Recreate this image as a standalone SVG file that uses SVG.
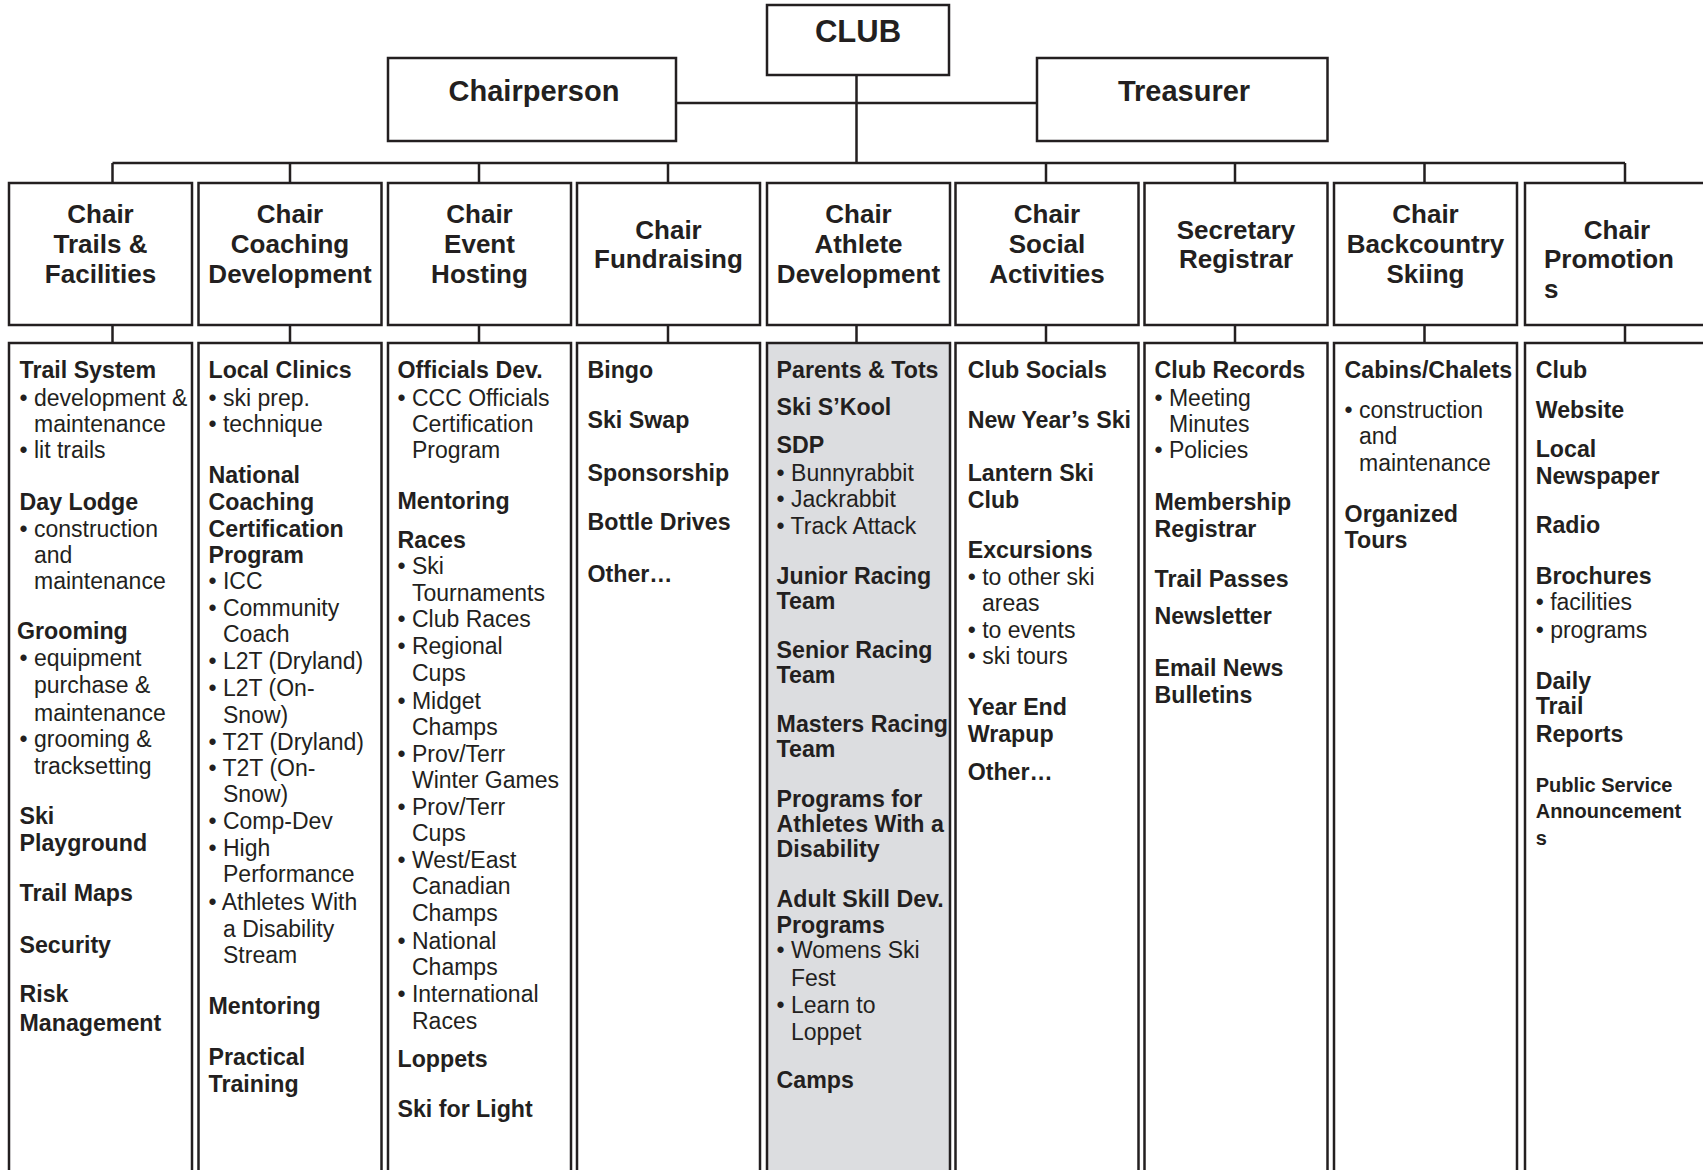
<svg xmlns="http://www.w3.org/2000/svg" width="1703" height="1170" viewBox="0 0 1703 1170">
<style>
.box{fill:#fff;stroke:#231f20;stroke-width:2.5}
.gray{fill:#dcdde0}
.conn{stroke:#231f20;stroke-width:2.5;fill:none}
text{fill:#231f20;font-family:"Liberation Sans",Arial,Helvetica,sans-serif}
.top{font-size:29px;font-weight:bold;text-anchor:middle}
.h{font-size:26px;font-weight:bold;text-anchor:middle}
.b{font-size:23.2px;font-weight:bold}
.r{font-size:23px}
.s{font-size:20px;font-weight:bold}
</style>
<rect width="1703" height="1170" fill="#fff"/>
<g id="connectors">
<path class="conn" d="M856.5 75V163M676 103H1037M112.5 163H1625"/>
<path class="conn" d="M112.5 163V183M290 163V183M479 163V183M668 163V183M1046 163V183M1235 163V183M1424.5 163V183M1625 163V183"/>
<path class="conn" d="M112.5 325V343M290 325V343M479 325V343M668 325V343M856.5 325V343M1046 325V343M1235 325V343M1424.5 325V343M1625 325V343"/>
</g>
<g id="club"><rect class="box" x="767" y="5" width="182" height="70"/><text class="top" x="858" y="42" style="font-size:31px">CLUB</text></g>
<g id="chairperson"><rect class="box" x="388" y="58" width="288" height="83"/><text class="top" x="534" y="101">Chairperson</text></g>
<g id="treasurer"><rect class="box" x="1037" y="58" width="290.5" height="83"/><text class="top" x="1184" y="101">Treasurer</text></g>

<g id="chair-trails"><rect class="box" x="9" y="183" width="183" height="142"/><text class="h"><tspan x="100.5" y="223">Chair</tspan><tspan x="100.5" y="253">Trails &amp;</tspan><tspan x="100.5" y="283">Facilities</tspan></text></g>
<g id="chair-coaching"><rect class="box" x="198.5" y="183" width="183" height="142"/><text class="h"><tspan x="290" y="223">Chair</tspan><tspan x="290" y="253">Coaching</tspan><tspan x="290" y="283">Development</tspan></text></g>
<g id="chair-event"><rect class="box" x="388" y="183" width="183" height="142"/><text class="h"><tspan x="479.5" y="223">Chair</tspan><tspan x="479.5" y="253">Event</tspan><tspan x="479.5" y="283">Hosting</tspan></text></g>
<g id="chair-fundraising"><rect class="box" x="577" y="183" width="183" height="142"/><text class="h"><tspan x="668.5" y="238.5">Chair</tspan><tspan x="668.5" y="268">Fundraising</tspan></text></g>
<g id="chair-athlete"><rect class="box" x="767" y="183" width="183" height="142"/><text class="h"><tspan x="858.5" y="223">Chair</tspan><tspan x="858.5" y="253">Athlete</tspan><tspan x="858.5" y="283">Development</tspan></text></g>
<g id="chair-social"><rect class="box" x="955.5" y="183" width="183" height="142"/><text class="h"><tspan x="1047" y="223">Chair</tspan><tspan x="1047" y="253">Social</tspan><tspan x="1047" y="283">Activities</tspan></text></g>
<g id="secretary"><rect class="box" x="1144.5" y="183" width="183" height="142"/><text class="h"><tspan x="1236" y="238.5">Secretary</tspan><tspan x="1236" y="268">Registrar</tspan></text></g>
<g id="chair-backcountry"><rect class="box" x="1334" y="183" width="183" height="142"/><text class="h"><tspan x="1425.5" y="223">Chair</tspan><tspan x="1425.5" y="253">Backcountry</tspan><tspan x="1425.5" y="283">Skiing</tspan></text></g>
<g id="chair-promotions"><rect class="box" x="1525" y="183" width="190" height="142"/><text class="h"><tspan x="1617" y="238.5">Chair</tspan><tspan x="1544" y="268" text-anchor="start">Promotion</tspan><tspan x="1544" y="298" text-anchor="start">s</tspan></text></g>

<g id="list-trails"><rect class="box" x="9" y="343" width="183" height="850"/>
<text class="b" x="19.5" y="378">Trail System</text>
<text class="r"><tspan x="19.5" y="405.5">• development &amp;</tspan><tspan x="34" y="431.6">maintenance</tspan><tspan x="19.5" y="457.7">• lit trails</tspan></text>
<text class="b" x="19.5" y="509.8">Day Lodge</text>
<text class="r"><tspan x="19.5" y="537">• construction</tspan><tspan x="34" y="563">and</tspan><tspan x="34" y="589">maintenance</tspan></text>
<text class="b" x="17" y="639">Grooming</text>
<text class="r"><tspan x="19.5" y="666">• equipment</tspan><tspan x="34" y="693">purchase &amp;</tspan><tspan x="34" y="720.5">maintenance</tspan><tspan x="19.5" y="746.5">• grooming &amp;</tspan><tspan x="34" y="773.7">tracksetting</tspan></text>
<text class="b"><tspan x="19.5" y="824">Ski</tspan><tspan x="19.5" y="851">Playground</tspan><tspan x="19.5" y="901">Trail Maps</tspan><tspan x="19.5" y="953">Security</tspan><tspan x="19.5" y="1002">Risk</tspan><tspan x="19.5" y="1031">Management</tspan></text>
</g>

<g id="list-coaching"><rect class="box" x="198.5" y="343" width="183" height="850"/>
<text class="b" x="208.5" y="378">Local Clinics</text>
<text class="r"><tspan x="208.5" y="405.5">• ski prep.</tspan><tspan x="208.5" y="431.6">• technique</tspan></text>
<text class="b"><tspan x="208.5" y="482.6">National</tspan><tspan x="208.5" y="509.8">Coaching</tspan><tspan x="208.5" y="537">Certification</tspan><tspan x="208.5" y="563">Program</tspan></text>
<text class="r"><tspan x="208.5" y="589">• ICC</tspan><tspan x="208.5" y="616">• Community</tspan><tspan x="223" y="642">Coach</tspan><tspan x="208.5" y="669">• L2T (Dryland)</tspan><tspan x="208.5" y="695.5">• L2T (On-</tspan><tspan x="223" y="722.7">Snow)</tspan><tspan x="208.5" y="749.8">• T2T (Dryland)</tspan><tspan x="208.5" y="776">• T2T (On-</tspan><tspan x="223" y="802">Snow)</tspan><tspan x="208.5" y="829">• Comp-Dev</tspan><tspan x="208.5" y="856">• High</tspan><tspan x="223" y="882">Performance</tspan><tspan x="208.5" y="909.5">• Athletes With</tspan><tspan x="223" y="936.6">a Disability</tspan><tspan x="223" y="962.7">Stream</tspan></text>
<text class="b"><tspan x="208.5" y="1013.7">Mentoring</tspan><tspan x="208.5" y="1065">Practical</tspan><tspan x="208.5" y="1092">Training</tspan></text>
</g>

<g id="list-event"><rect class="box" x="388" y="343" width="183" height="850"/>
<text class="b" x="397.5" y="378">Officials Dev.</text>
<text class="r"><tspan x="397.5" y="405.5">• CCC Officials</tspan><tspan x="412" y="431.6">Certification</tspan><tspan x="412" y="457.7">Program</tspan></text>
<text class="b"><tspan x="397.5" y="508.7">Mentoring</tspan><tspan x="397.5" y="547.8">Races</tspan></text>
<text class="r"><tspan x="397.5" y="574">• Ski</tspan><tspan x="412" y="601">Tournaments</tspan><tspan x="397.5" y="627">• Club Races</tspan><tspan x="397.5" y="654">• Regional</tspan><tspan x="412" y="681">Cups</tspan><tspan x="397.5" y="708.5">• Midget</tspan><tspan x="412" y="734.6">Champs</tspan><tspan x="397.5" y="761.8">• Prov/Terr</tspan><tspan x="412" y="787.8">Winter Games</tspan><tspan x="397.5" y="815">• Prov/Terr</tspan><tspan x="412" y="841">Cups</tspan><tspan x="397.5" y="868">• West/East</tspan><tspan x="412" y="894">Canadian</tspan><tspan x="412" y="921.4">Champs</tspan><tspan x="397.5" y="948.6">• National</tspan><tspan x="412" y="974.6">Champs</tspan><tspan x="397.5" y="1001.8">• International</tspan><tspan x="412" y="1029">Races</tspan></text>
<text class="b"><tspan x="397.5" y="1067">Loppets</tspan><tspan x="397.5" y="1117">Ski for Light</tspan></text>
</g>

<g id="list-fundraising"><rect class="box" x="577" y="343" width="183" height="850"/>
<text class="b"><tspan x="587.5" y="378">Bingo</tspan><tspan x="587.5" y="428">Ski Swap</tspan><tspan x="587.5" y="480.5">Sponsorship</tspan><tspan x="587.5" y="530.4">Bottle Drives</tspan><tspan x="587.5" y="581.5">Other…</tspan></text>
</g>

<g id="list-athlete"><rect class="box gray" x="767" y="343" width="183" height="850"/>
<text class="b"><tspan x="776.6" y="378">Parents &amp; Tots</tspan><tspan x="776.6" y="415">Ski S’Kool</tspan><tspan x="776.6" y="453">SDP</tspan></text>
<text class="r"><tspan x="776.6" y="480.5">• Bunnyrabbit</tspan><tspan x="776.6" y="506.5">• Jackrabbit</tspan><tspan x="776.6" y="533.7">• Track Attack</tspan></text>
<text class="b"><tspan x="776.6" y="583.6">Junior Racing</tspan><tspan x="776.6" y="608.6">Team</tspan><tspan x="776.6" y="657.5">Senior Racing</tspan><tspan x="776.6" y="682.5">Team</tspan><tspan x="776.6" y="732.4">Masters Racing</tspan><tspan x="776.6" y="757.4">Team</tspan><tspan x="776.6" y="807.4">Programs for</tspan><tspan x="776.6" y="832.3">Athletes With a</tspan><tspan x="776.6" y="857.3">Disability</tspan><tspan x="776.6" y="907.3">Adult Skill Dev.</tspan><tspan x="776.6" y="933.4">Programs</tspan></text>
<text class="r"><tspan x="776.6" y="958.3">• Womens Ski</tspan><tspan x="791" y="985.5">Fest</tspan><tspan x="776.6" y="1012.6">• Learn to</tspan><tspan x="791" y="1039.8">Loppet</tspan></text>
<text class="b" x="776.6" y="1087.6">Camps</text>
</g>

<g id="list-social"><rect class="box" x="955.5" y="343" width="183" height="850"/>
<text class="b"><tspan x="967.7" y="378">Club Socials</tspan><tspan x="967.7" y="428">New Year’s Ski</tspan><tspan x="967.7" y="480.5">Lantern Ski</tspan><tspan x="967.7" y="507.6">Club</tspan><tspan x="967.7" y="557.6">Excursions</tspan></text>
<text class="r"><tspan x="967.7" y="584.7">• to other ski</tspan><tspan x="982" y="610.8">areas</tspan><tspan x="967.7" y="638">• to events</tspan><tspan x="967.7" y="664">• ski tours</tspan></text>
<text class="b"><tspan x="967.7" y="715">Year End</tspan><tspan x="967.7" y="742">Wrapup</tspan><tspan x="967.7" y="780">Other…</tspan></text>
</g>

<g id="list-secretary"><rect class="box" x="1144.5" y="343" width="183" height="850"/>
<text class="b" x="1154.5" y="378">Club Records</text>
<text class="r"><tspan x="1154.5" y="405.5">• Meeting</tspan><tspan x="1169" y="431.6">Minutes</tspan><tspan x="1154.5" y="457.7">• Policies</tspan></text>
<text class="b"><tspan x="1154.5" y="509.8">Membership</tspan><tspan x="1154.5" y="537">Registrar</tspan><tspan x="1154.5" y="587">Trail Passes</tspan><tspan x="1154.5" y="624">Newsletter</tspan><tspan x="1154.5" y="676">Email News</tspan><tspan x="1154.5" y="703">Bulletins</tspan></text>
</g>

<g id="list-backcountry"><rect class="box" x="1334" y="343" width="183" height="850"/>
<text class="b" x="1344.6" y="378">Cabins/Chalets</text>
<text class="r"><tspan x="1344.6" y="417.5">• construction</tspan><tspan x="1359" y="443.5">and</tspan><tspan x="1359" y="470.7">maintenance</tspan></text>
<text class="b"><tspan x="1344.6" y="521.7">Organized</tspan><tspan x="1344.6" y="547.8">Tours</tspan></text>
</g>

<g id="list-promotions"><rect class="box" x="1525" y="343" width="190" height="850"/>
<text class="b"><tspan x="1535.7" y="378">Club</tspan><tspan x="1535.7" y="417.5">Website</tspan><tspan x="1535.7" y="456.6">Local</tspan><tspan x="1535.7" y="483.7">Newspaper</tspan><tspan x="1535.7" y="532.6">Radio</tspan><tspan x="1535.7" y="583.6">Brochures</tspan></text>
<text class="r"><tspan x="1535.7" y="609.7">• facilities</tspan><tspan x="1535.7" y="638">• programs</tspan></text>
<text class="b"><tspan x="1535.7" y="689">Daily</tspan><tspan x="1535.7" y="714">Trail</tspan><tspan x="1535.7" y="742">Reports</tspan></text>
<text class="s"><tspan x="1535.7" y="792">Public Service</tspan><tspan x="1535.7" y="818">Announcement</tspan><tspan x="1535.7" y="845">s</tspan></text>
</g>
</svg>
